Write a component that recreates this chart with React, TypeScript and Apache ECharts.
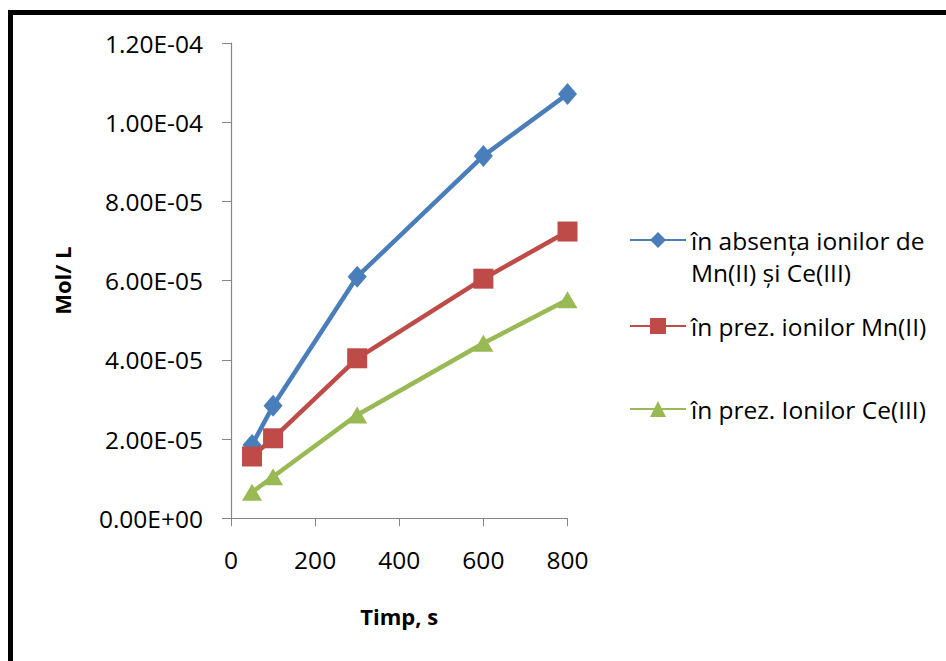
import React, { useEffect, useRef } from "react";
import * as echarts from "echarts";

const timeValues = [50, 100, 300, 600, 800];
const seriesNames = [
  "în absența ionilor de\nMn(II) și Ce(III)",
  "în prez. ionilor Mn(II)",
  "în prez. Ionilor Ce(III)",
];
const absentValues = [1.85e-5, 2.84e-5, 6.1e-5, 9.15e-5, 1.071e-4];
const mnValues = [1.56e-5, 2.02e-5, 4.04e-5, 6.05e-5, 7.24e-5];
const ceValues = [6.6e-6, 1.05e-5, 2.61e-5, 4.42e-5, 5.52e-5];
const xTicks = { min: 0, max: 800, interval: 200 };
const yTicks = { min: 0, max: 1.2e-4, interval: 2e-5 };

const FONT = "'Open Sans', 'Liberation Sans', sans-serif";

const fmtSci = (v: number) => {
  const s = v.toExponential(2);
  const [m, e] = s.split("e");
  const n = parseInt(e, 10);
  return m + "E" + (n < 0 ? "-" : "+") + String(Math.abs(n)).padStart(2, "0");
};

export default function App() {
  const ref = useRef<HTMLDivElement>(null);
  useEffect(() => {
    if (!ref.current) return;
    const chart = echarts.init(ref.current, undefined, { renderer: "svg" });
    const colors = ["#4A7EBB", "#BE4B48", "#98B954"];
    const mk = (name: string, vals: number[], color: string, symbol: string, size: any) => ({
      name,
      type: "line",
      data: timeValues.map((t, i) => [t, vals[i]]),
      symbol,
      symbolSize: size,
      showAllSymbol: true,
      lineStyle: { color, width: 4.5 },
      itemStyle: { color },
      z: 3,
    });
    const legendBase = {
      orient: "vertical",
      left: 629,
      padding: 0,
      itemWidth: 56,
      itemHeight: 20,
      textStyle: { fontFamily: FONT, fontSize: 24.5, color: "#000", lineHeight: 32 },
    };
    chart.setOption({
      animation: false,
      backgroundColor: "#fff",
      color: colors,
      grid: { left: 231, top: 43, right: 378.5, bottom: 142.7 },
      xAxis: {
        type: "value",
        min: xTicks.min,
        max: xTicks.max,
        interval: xTicks.interval,
        name: "Timp, s",
        nameLocation: "middle",
        nameGap: 87,
        nameTextStyle: { fontFamily: FONT, fontSize: 22, fontWeight: "bold", color: "#000" },
        axisLine: { lineStyle: { color: "#868686", width: 1.2 } },
        axisTick: { show: true, length: 8, lineStyle: { color: "#868686" } },
        splitLine: { show: false },
        axisLabel: { fontFamily: FONT, fontSize: 24.5, color: "#000", margin: 29 },
      },
      yAxis: {
        type: "value",
        min: yTicks.min,
        max: yTicks.max,
        interval: yTicks.interval,
        name: "Mol/ L",
        nameLocation: "middle",
        nameGap: 158,
        nameRotate: 90,
        nameTextStyle: { fontFamily: FONT, fontSize: 22, fontWeight: "bold", color: "#000" },
        axisLine: { show: true, lineStyle: { color: "#868686", width: 1.2 } },
        axisTick: { show: true, length: 9, lineStyle: { color: "#868686" } },
        splitLine: { show: false },
        axisLabel: { fontFamily: FONT, fontSize: 24.5, color: "#000", margin: 28, formatter: fmtSci },
      },
      legend: [
        {
          ...legendBase,
          top: 192,
          formatter: (n: string) => " \n" + n,
          data: [seriesNames[0]],
        },
        { ...legendBase, top: 310, data: [seriesNames[1]] },
        { ...legendBase, top: 393, data: [seriesNames[2]] },
      ],
      series: [
        mk(seriesNames[0], absentValues, colors[0], "diamond", [19, 22]),
        mk(seriesNames[1], mnValues, colors[1], "rect", 20),
        mk(seriesNames[2], ceValues, colors[2], "triangle", [20, 17]),
      ],
      graphic: [
        {
          type: "rect",
          shape: { x: 10.5, y: 12.5, width: 1200, height: 1200 },
          style: { fill: "none", stroke: "#000", lineWidth: 5 },
          z: 10,
        },
      ],
    });
    return () => chart.dispose();
  }, []);
  return (
    <div
      ref={ref}
      style={{ position: "fixed", left: 0, top: 0, width: 946, height: 661 }}
    />
  );
}
